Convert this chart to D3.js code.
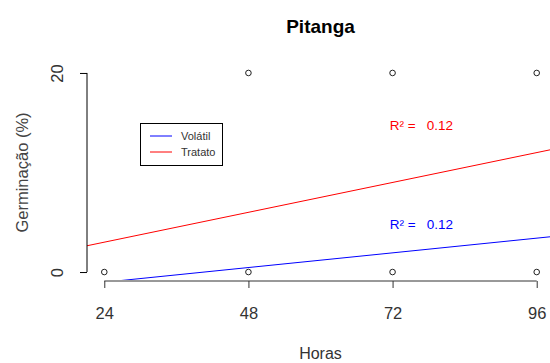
<!DOCTYPE html>
<html><head><meta charset="utf-8">
<script src="https://cdn.jsdelivr.net/npm/d3@7"></script>
<style>body{margin:0;background:#fff}svg{display:block;font-family:"Liberation Sans",Arial,sans-serif}</style>
</head><body>
<script>
const hours = [24, 48, 48, 72, 72, 96, 96];
const germ = [0, 0, 20, 0, 20, 0, 20];
const xTicks = [24, 48, 72, 96];
const yTicks = [0, 20];
const seriesNames = ["Volátil", "Tratato"];
const seriesColors = ["#0000ff", "#ff0000"];
const intercepts = [-2.5, 0.0];
const slopes = [0.0615, 0.125];
const r2Labels = ["R² =   0.12", "R² =   0.12"];
const r2Pos = [[76.8, 4.8], [76.8, 14.7]];

const W = 550, H = 363;
const svg = d3.select("body").append("svg").attr("width", W).attr("height", H);
const pl = 87, pr = 554, pt = 65, pb = 280;
const x = d3.scaleLinear().domain([21.12, 98.88]).range([pl, pr]);
const y = d3.scaleLinear().domain([-0.8, 20.8]).range([pb, pt]);
const FF = "Liberation Sans, Arial, sans-serif";

svg.append("defs").append("clipPath").attr("id", "clip")
  .append("rect").attr("x", pl).attr("y", pt).attr("width", pr - pl).attr("height", pb - pt);

// points
svg.append("g").selectAll("circle").data(hours.map((h, i) => [h, germ[i]])).join("circle")
  .attr("cx", d => x(d[0])).attr("cy", d => y(d[1])).attr("r", 2.8)
  .attr("fill", "none").attr("stroke", "#222").attr("stroke-width", 1);

// regression lines
const gl = svg.append("g").attr("clip-path", "url(#clip)");
seriesNames.forEach((s, i) => {
  const x0 = 21.12, x1 = 98.88;
  gl.append("line")
    .attr("x1", x(x0)).attr("y1", y(intercepts[i] + slopes[i] * x0))
    .attr("x2", x(x1)).attr("y2", y(intercepts[i] + slopes[i] * x1))
    .attr("stroke", seriesColors[i]).attr("stroke-width", 1);
  svg.append("text").attr("x", x(r2Pos[i][0])).attr("y", y(r2Pos[i][1]))
    .attr("text-anchor", "middle").attr("dominant-baseline", "central")
    .attr("font-size", 13.5).attr("fill", seriesColors[i]).attr("xml:space", "preserve")
    .text(r2Labels[i]);
});

// x axis
const xa = svg.append("g").attr("transform", `translate(0,${pb + 1})`)
  .call(d3.axisBottom(x).tickValues(xTicks).tickSize(7).tickPadding(0).tickSizeOuter(0));
xa.select(".domain").attr("d", `M${x(24)},0H${x(96)}`).attr("stroke", "#333");
xa.selectAll(".tick line").attr("stroke", "#333");
xa.selectAll("text").attr("font-size", 16.5).attr("fill", "#333").attr("font-family", FF)
  .attr("dy", null).attr("y", 31.5).attr("dominant-baseline", "central");

// y axis
const ya = svg.append("g").attr("transform", `translate(${pl},0)`)
  .call(d3.axisLeft(y).tickValues(yTicks).tickSize(7).tickSizeOuter(0).tickFormat(d3.format("d")));
ya.select(".domain").attr("d", `M0,${y(0)}V${y(20)}`).attr("stroke", "#000");
ya.selectAll(".tick line").attr("stroke", "#000");
ya.selectAll("text").attr("font-size", 16.5).attr("fill", "#333")
  .attr("font-family", FF)
  .attr("x", null).attr("dy", null).attr("text-anchor", "middle")
  .attr("transform", "translate(-30.5,0) rotate(-90)").attr("dominant-baseline", "central");

// titles
svg.append("text").attr("x", (pl + pr) / 2).attr("y", 26).attr("text-anchor", "middle")
  .attr("dominant-baseline", "central").attr("font-size", 19).attr("font-weight", "bold").attr("fill", "#000").text("Pitanga");
svg.append("text").attr("x", (pl + pr) / 2).attr("y", 353).attr("text-anchor", "middle")
  .attr("dominant-baseline", "central").attr("font-size", 16).attr("fill", "#333").text("Horas");
svg.append("text").attr("transform", `translate(22,${(pt + pb) / 2}) rotate(-90)`)
  .attr("text-anchor", "middle").attr("dominant-baseline", "central")
  .attr("font-size", 16.5).attr("fill", "#444").text("Germinação (%)");

// legend
const lg = svg.append("g");
lg.append("rect").attr("x", 140.5).attr("y", 123.5).attr("width", 82).attr("height", 42)
  .attr("fill", "#fff").attr("stroke", "#000");
seriesNames.forEach((s, i) => {
  const yy = 136 + i * 16;
  lg.append("line").attr("x1", 150).attr("x2", 172).attr("y1", yy).attr("y2", yy)
    .attr("stroke", seriesColors[i]);
  lg.append("text").attr("x", 181).attr("y", yy).attr("dominant-baseline", "central")
    .attr("font-size", 11).attr("fill", "#333").text(s);
});
</script>
</body></html>
